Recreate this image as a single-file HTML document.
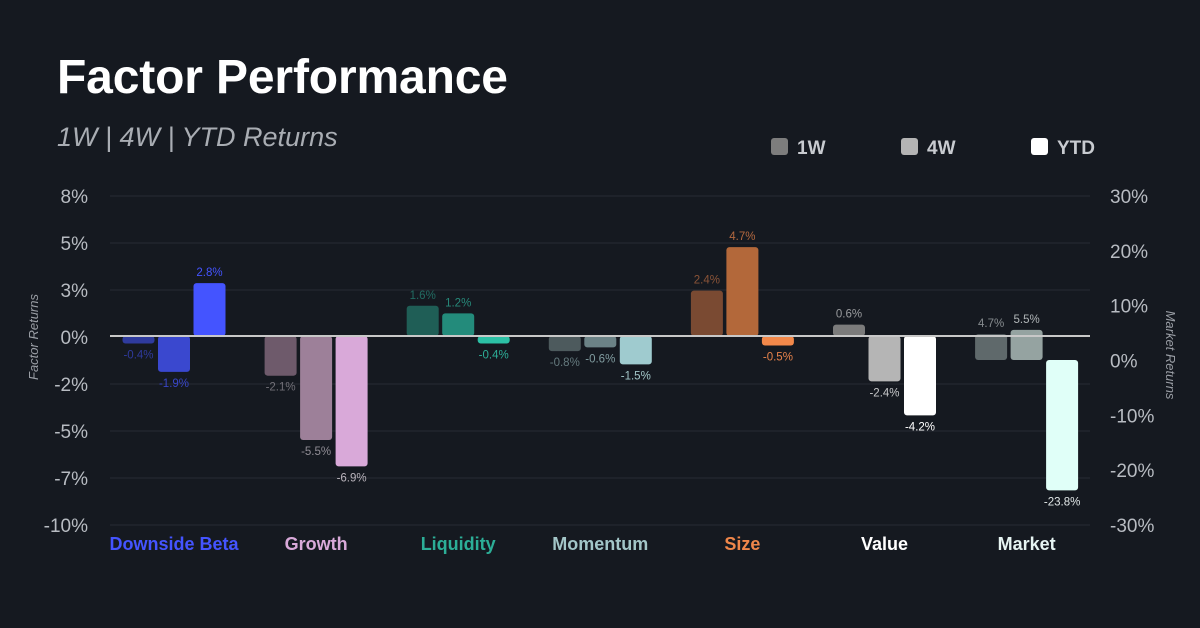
<!DOCTYPE html>
<html><head><meta charset="utf-8"><style>
body{margin:0;background:#151920;}
svg{display:block;font-family:"Liberation Sans",sans-serif;}
</style></head><body>
<svg id="c" width="1200" height="628" viewBox="0 0 1200 628">
<rect width="1200" height="628" fill="#151920"/>
<text x="57" y="93" fill="#ffffff" font-size="48" font-weight="bold" textLength="451">Factor Performance</text>
<text x="57" y="146" fill="#a9adb3" font-size="27" font-style="italic">1W | 4W | YTD Returns</text>
<g>
<rect x="771" y="138" width="17" height="17" rx="3" fill="#7d7d7d"/>
<text x="797" y="154" fill="#c8cbd0" font-size="19" font-weight="bold">1W</text>
<rect x="901" y="138" width="17" height="17" rx="3" fill="#b4b4b4"/>
<text x="927" y="154" fill="#c8cbd0" font-size="19" font-weight="bold">4W</text>
<rect x="1031" y="138" width="17" height="17" rx="3" fill="#ffffff"/>
<text x="1057" y="154" fill="#c8cbd0" font-size="19" font-weight="bold">YTD</text>
</g>
<text transform="translate(38,337) rotate(-90)" text-anchor="middle" fill="#9a9ea5" font-size="13" font-style="italic">Factor Returns</text>
<text transform="translate(1166,355) rotate(90)" text-anchor="middle" fill="#9a9ea5" font-size="13" font-style="italic">Market Returns</text>
<g id="g"></g>
</svg>
<script>
const categories=["Downside Beta","Growth","Liquidity","Momentum","Size","Value","Market"];
const w1=[-0.4,-2.1,1.6,-0.8,2.4,0.6,4.7];
const w4=[-1.9,-5.5,1.2,-0.6,4.7,-2.4,5.5];
const ytd=[2.8,-6.9,-0.4,-1.5,-0.5,-4.2,-23.8];
const leftTicks=["8%","5%","3%","0%","-2%","-5%","-7%","-10%"];
const rightTicks=["30%","20%","10%","0%","-10%","-20%","-30%"];
const colors=[["#2f3b9e","#3a48cf","#4454ff"],["#6e5a6b","#9d8099","#d9a9d9"],["#1f5e56","#238b7b","#2cc0a5"],["#4d5a5d","#6b8286","#9fcbcf"],["#7a4a32","#b3683a","#f2884a"],["#7b7b7b","#b5b5b5","#ffffff"],["#5f696b","#95a3a1","#e0fff8"]];
const labelCol=["#4454ff","#b9b3bb","#2cae97","#a3c6c8","#e7824a","#ffffff","#e0e6e6"];
const catCol=["#4454ff","#d9a9d9","#2cae97","#a3c6c8","#ef864a","#ffffff","#e6f4f2"];
const NS="http://www.w3.org/2000/svg";
const g=document.getElementById('g');
const yL=v=>336-v*18.9;
const yR=v=>360-v*5.48;
const tickY=i=>196+i*47;
function mk(t,a){const e=document.createElementNS(NS,t);for(const k in a)e.setAttribute(k,a[k]);g.appendChild(e);return e;}
leftTicks.forEach((t,i)=>{
 const y=tickY(i);
 if(i!==3){const l=mk('line',{x1:110,x2:1090,y1:y,y2:y,stroke:'#272b33','stroke-width':1});
 
 }
 const e=mk('text',{x:88,y:y+7,'text-anchor':'end',fill:'#b8bcc2','font-size':19});e.textContent=t;
 
 
});
rightTicks.forEach((t,i)=>{
 const y=196+i*(329/6);
 const e=mk('text',{x:1110,y:y+7,fill:'#b8bcc2','font-size':19});e.textContent=t;
 
 
});
const groupX=i=>174+i*142.1;
const series=[w1,w4,ytd];
categories.forEach((c,i)=>{
 const cx=groupX(i);
 series.forEach((s,j)=>{
  const v=s[i];
  const sc=i===6?yR:yL;
  const y0=sc(0),y1=sc(v);
  const x=cx+(j-1)*35.5-16;
  const r=mk('rect',{x:x,y:Math.min(y0,y1),width:32,height:Math.max(1,Math.abs(y1-y0)),rx:3,fill:colors[i][j]});
  
  
  const ty=v>=0?Math.min(y0,y1)-7:Math.max(y0,y1)+15;
  const t=mk('text',{x:x+16,y:ty,'text-anchor':'middle',fill:labelCol[i],'font-size':11.5,opacity:[0.55,0.75,1][j]});
  t.textContent=v.toFixed(1)+'%';
  
  
 });
 const ct=mk('text',{x:cx,y:550,'text-anchor':'middle',fill:catCol[i],'font-size':18,'font-weight':'bold'});
 ct.textContent=c;
 
 
});
const z=mk('line',{x1:110,x2:1090,y1:336,y2:336,stroke:'#c8c8c8','stroke-width':2});


</script>
</body></html>
